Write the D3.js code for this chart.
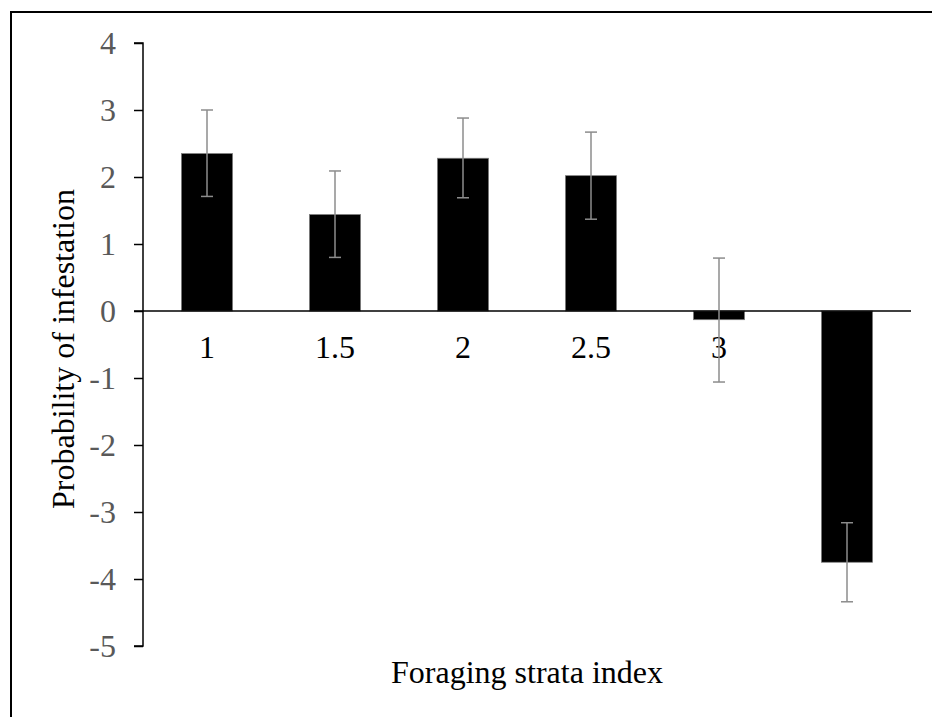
<!DOCTYPE html>
<html>
<head>
<meta charset="utf-8">
<script src="https://cdn.jsdelivr.net/npm/d3@7"></script>
<style>
  body { margin: 0; background: #fff; }
  text { font-family: "Liberation Serif", "Times New Roman", serif; }
</style>
</head>
<body>
<script>
"use strict";

// data
var categories = ["1", "1.5", "2", "2.5", "3", ""];
var values = [2.35, 1.44, 2.28, 2.02, -0.13, -3.75];
var errLow = [1.71, 0.80, 1.69, 1.37, -1.06, -4.34];
var errHigh = [3.00, 2.09, 2.88, 2.67, 0.79, -3.16];
var yTicks = [-5, -4, -3, -2, -1, 0, 1, 2, 3, 4];

(function() {
  var width = 932, height = 717;

  var svg = d3.select('body').append('svg')
    .attr('width', width)
    .attr('height', height);

  // outer frame (runs off the right/bottom edges)
  svg.append('rect')
    .attr('x', 11).attr('y', 12)
    .attr('width', 960).attr('height', 760)
    .attr('fill', 'none')
    .attr('stroke', '#000')
    .attr('stroke-width', 2);

  var x = d3.scaleBand()
    .domain(d3.range(categories.length))
    .range([143, 911])
    .paddingInner(0.6)
    .paddingOuter(0.3);

  var y = d3.scaleLinear()
    .domain([-5, 4])
    .range([646, 43]);

  // y axis, plain hyphen for negatives like the original
  var yAxis = svg.append('g')
    .attr('transform', 'translate(143,0)')
    .call(d3.axisLeft(y).tickValues(yTicks).tickSize(9).tickPadding(18)
      .tickFormat(function(d) { return String(d); }));
  yAxis.select('.domain').attr('stroke', '#000').attr('stroke-width', 1.5)
    .attr('d', 'M-9,' + y(4) + 'H0V' + y(-5) + 'H-9');
  yAxis.selectAll('.tick line').attr('stroke', '#000').attr('stroke-width', 1.5);
  yAxis.selectAll('.tick text')
    .attr('fill', '#595959')
    .style('font-size', '32px')
    .style('font-family', '"Liberation Serif", serif');

  // bars
  svg.selectAll('rect.bar')
    .data(values)
    .enter()
    .append('rect')
      .attr('class', 'bar')
      .attr('x', function(d, i) { return x(i); })
      .attr('y', function(d) { return y(Math.max(0, d)); })
      .attr('width', x.bandwidth())
      .attr('height', function(d) { return Math.abs(y(d) - y(0)); })
      .attr('fill', '#000')
      .attr('stroke', '#7f7f7f')
      .attr('stroke-width', 0.75);

  // zero line / category axis
  var xAxis = svg.append('g')
    .attr('transform', 'translate(0,' + y(0) + ')')
    .call(d3.axisBottom(x).tickSize(0).tickPadding(24)
      .tickFormat(function(i) { return categories[i]; }));
  xAxis.select('.domain').attr('stroke', '#000').attr('stroke-width', 1.5)
    .attr('d', 'M134,0H911');
  xAxis.selectAll('.tick text')
    .attr('fill', '#000')
    .style('font-size', '32px')
    .style('font-family', '"Liberation Serif", serif');

  // error bars
  var cap = 6;
  var err = svg.append('g')
    .attr('stroke', '#8c8c8c')
    .attr('stroke-width', 1.5)
    .attr('fill', 'none');
  values.forEach(function(v, i) {
    var cx = x(i) + x.bandwidth() / 2;
    err.append('line')
      .attr('x1', cx).attr('x2', cx)
      .attr('y1', y(errLow[i])).attr('y2', y(errHigh[i]));
    err.append('line')
      .attr('x1', cx - cap).attr('x2', cx + cap)
      .attr('y1', y(errHigh[i])).attr('y2', y(errHigh[i]));
    err.append('line')
      .attr('x1', cx - cap).attr('x2', cx + cap)
      .attr('y1', y(errLow[i])).attr('y2', y(errLow[i]));
  });

  // axis titles
  svg.append('text')
    .attr('x', 527).attr('y', 683)
    .attr('text-anchor', 'middle')
    .style('font-size', '32px')
    .text('Foraging strata index');

  svg.append('text')
    .attr('transform', 'translate(74,349) rotate(-90)')
    .attr('text-anchor', 'middle')
    .style('font-size', '32px')
    .text('Probability of infestation');
})();
</script>
</body>
</html>
